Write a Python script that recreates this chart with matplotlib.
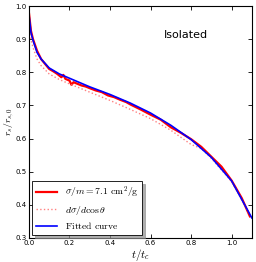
import matplotlib
matplotlib.use('Agg')
import matplotlib.pyplot as plt

# Simulation (sigma/m = 7.1 cm^2/g)
t_sim = [0, 0.01, 0.02, 0.04, 0.06, 0.08, 0.1, 0.12, 0.14, 0.16, 0.17, 0.18, 0.2, 0.21,
         0.22, 0.24, 0.26, 0.28, 0.3, 0.33, 0.36, 0.39, 0.42, 0.45, 0.48, 0.5, 0.55,
         0.6, 0.65, 0.7, 0.75, 0.8, 0.85, 0.9, 0.95, 1.0, 1.05, 1.09]
r_sim = [0.98, 0.925, 0.9, 0.865, 0.84, 0.825, 0.81, 0.803, 0.795, 0.785, 0.792, 0.78,
         0.775, 0.762, 0.77, 0.765, 0.76, 0.757, 0.752, 0.745, 0.74, 0.73, 0.725, 0.717,
         0.71, 0.703, 0.688, 0.672, 0.657, 0.634, 0.617, 0.598, 0.575, 0.545, 0.515,
         0.473, 0.42, 0.365]

# Differential cross section run
t_diff = [0, 0.01, 0.02, 0.04, 0.06, 0.1, 0.15, 0.2, 0.3, 0.4, 0.5, 0.6, 0.7, 0.8,
          0.85, 0.9, 1.0, 1.09]
r_diff = [0.96, 0.9, 0.875, 0.84, 0.82, 0.795, 0.778, 0.765, 0.74, 0.715, 0.688, 0.66,
          0.625, 0.582, 0.57, 0.54, 0.47, 0.37]

# Fitted curve
t_fit = [0, 0.01, 0.02, 0.04, 0.06, 0.1, 0.15, 0.2, 0.3, 0.4, 0.5, 0.6, 0.7, 0.8,
         0.9, 1.0, 1.1]
r_fit = [0.975, 0.92, 0.897, 0.86, 0.84, 0.813, 0.795, 0.782, 0.756, 0.733, 0.707,
         0.677, 0.64, 0.597, 0.543, 0.472, 0.36]

plt.rcParams['mathtext.fontset'] = 'cm'
plt.rcParams['xtick.direction'] = 'in'
plt.rcParams['ytick.direction'] = 'in'
plt.rcParams['xtick.top'] = True
plt.rcParams['ytick.right'] = True

fig = plt.figure(figsize=(2.56, 2.62), dpi=100)
ax = fig.add_axes([0.113, 0.092, 0.871, 0.885])

ax.plot(t_sim, r_sim, color='red', lw=1.6, label=r'$\sigma/m = 7.1\ \mathrm{cm}^2/\mathrm{g}$')
ax.plot(t_diff, r_diff, color='#ff8080', lw=1.0, ls=':', label=r'$d\sigma/d\cos\theta$')
ax.plot(t_fit, r_fit, color='blue', lw=1.2, label=r'$\mathrm{Fitted\ curve}$')

ax.set_xlim(0, 1.1)
ax.set_ylim(0.3, 1.0)
ax.set_xticks([0.0, 0.2, 0.4, 0.6, 0.8, 1.0])
ax.set_yticks([0.3, 0.4, 0.5, 0.6, 0.7, 0.8, 0.9, 1.0])
ax.tick_params(labelsize=5, length=3, width=0.6, pad=1.5)
for s in ax.spines.values():
    s.set_linewidth(0.8)

ax.set_xlabel(r'$t/t_c$', fontsize=8, labelpad=1)
ax.set_ylabel(r'$r_s/r_{s,0}$', fontsize=7, labelpad=0)
ax.text(0.705, 0.875, 'Isolated', transform=ax.transAxes, ha='center', va='center', fontsize=8)

leg = ax.legend(loc='lower left', fontsize=7, shadow={'color': '0.55', 'alpha': 0.7},
                fancybox=False, borderaxespad=0.3, handlelength=2.2, labelspacing=0.35)
leg.get_frame().set_edgecolor('black')
leg.get_frame().set_linewidth(0.6)

plt.savefig('out.png', dpi=100)
